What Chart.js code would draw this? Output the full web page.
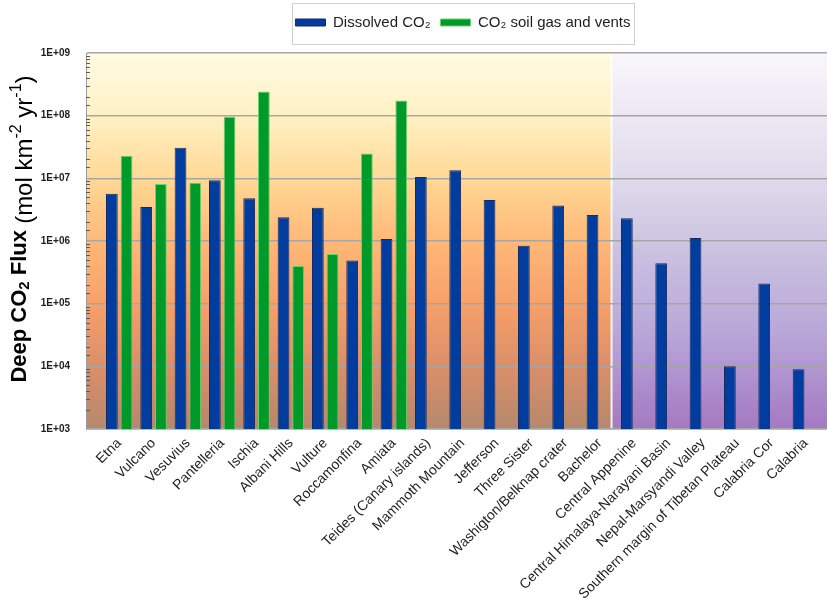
<!DOCTYPE html>
<html>
<head>
<meta charset="utf-8">
<script src="https://cdn.jsdelivr.net/npm/chart.js@4"></script>
<style>
  html, body { margin: 0; padding: 0; background: #ffffff; }
  canvas { display: block; }
</style>
</head>
<body>
<canvas id="chart" width="827" height="601"></canvas>
<script>
// Volcanic / tectonic areas along the x axis
const categories = [
  'Etna', 'Vulcano', 'Vesuvius', 'Pantelleria', 'Ischia', 'Albani Hills',
  'Vulture', 'Roccamonfina', 'Amiata', 'Teides (Canary islands)',
  'Mammoth Mountain', 'Jefferson', 'Three Sister', 'Washigton/Belknap crater',
  'Bachelor', 'Central Appenine', 'Central Himalaya-Narayani Basin',
  'Nepal-Marsyandi Valley', 'Southern margin of Tibetan Plateau',
  'Calabria Cor', 'Calabria'
];

// Deep CO2 flux, mol km-2 yr-1
const dissolvedCO2 = [
  5.7e6, 3.5e6, 3.07e7, 9.3e6, 4.8e6, 2.4e6,
  3.4e6, 4.9e5, 1.08e6, 1.05e7,
  1.34e7, 4.5e6, 8.4e5, 3.7e6,
  2.6e6, 2.3e6, 4.4e5,
  1.12e6, 1.0e4,
  2.1e5, 9.0e3
];
const soilGasVents = [
  2.3e7, 8.1e6, 8.5e6, 9.6e7, 2.43e8, 4.0e5,
  6.2e5, 2.5e7, 1.75e8, null,
  null, null, null, null,
  null, null, null,
  null, null,
  null, null
];

// Labels for the decades of the log axis
const yTickLabels = ['1E+03', '1E+04', '1E+05', '1E+06', '1E+07', '1E+08', '1E+09'];
const yMinExp = 3;

// Horizontal extent of the category axis (in category units) and where the
// volcanic group gives way to the non-volcanic group
const xMin = -0.967;
const xMax = 20.615;
const regionBoundary = 14.34;

const FONT = "'Liberation Sans', Arial, sans-serif";

// Two gradient panels behind the plot and a thin separator between them
const panelBackground = {
  id: 'panelBackground',
  beforeDraw(chart) {
    const { ctx, chartArea: a, scales: { x } } = chart;
    const split = x.getPixelForValue(regionBoundary);
    ctx.save();
    const warm = ctx.createLinearGradient(0, a.top, 0, a.bottom);
    warm.addColorStop(0.00, '#fffbe2');
    warm.addColorStop(0.17, '#fff1c4');
    warm.addColorStop(0.33, '#ffd996');
    warm.addColorStop(0.50, '#ffb877');
    warm.addColorStop(0.67, '#f6a06a');
    warm.addColorStop(0.84, '#d98e69');
    warm.addColorStop(1.00, '#b5886d');
    ctx.fillStyle = warm;
    ctx.fillRect(a.left, a.top, split - a.left, a.bottom - a.top);

    const cool = ctx.createLinearGradient(0, a.top, 0, a.bottom);
    cool.addColorStop(0.00, '#f9f6fb');
    cool.addColorStop(0.33, '#dfdbec');
    cool.addColorStop(0.50, '#cdc5e2');
    cool.addColorStop(0.75, '#b8a6d8');
    cool.addColorStop(1.00, '#a479c2');
    ctx.fillStyle = cool;
    ctx.fillRect(split, a.top, a.right - split, a.bottom - a.top);

    ctx.strokeStyle = 'rgba(255,255,255,0.9)';
    ctx.lineWidth = 2;
    ctx.beginPath();
    ctx.moveTo(split, a.top);
    ctx.lineTo(split, a.bottom);
    ctx.stroke();
    ctx.restore();
  }
};

// Short minor tick dashes inside the log axis, legend frame, axis title
const decorations = {
  id: 'decorations',
  afterLayout(chart) {
    // legend sits in a framed box near the top edge, centred over the plot body
    const lg = chart.legend;
    lg.left = 99;
    lg.top -= 13;
    lg.bottom -= 13;
    lg.adjustHitBoxes();
  },
  afterDraw(chart) {
    const { ctx, chartArea: a, scales: { y } } = chart;
    ctx.save();

    // minor ticks
    ctx.strokeStyle = '#5a5a5a';
    ctx.lineWidth = 1;
    y.ticks.forEach(t => {
      const e = Math.log10(t.value);
      if (Math.abs(e - Math.round(e)) < 1e-9) return;
      const py = Math.round(y.getPixelForValue(t.value)) + 0.5;
      ctx.beginPath();
      ctx.moveTo(a.left, py);
      ctx.lineTo(a.left + 4, py);
      ctx.stroke();
    });

    // legend frame
    const lg = chart.legend;
    const hb = lg.legendHitBoxes;
    if (hb && hb.length) {
      const first = hb[0], last = hb[hb.length - 1];
      const cy = lg.top + 16;
      const left = first.left - 3;
      const right = last.left + last.width + 4;
      ctx.strokeStyle = '#cfcfcf';
      ctx.lineWidth = 1;
      ctx.strokeRect(Math.round(left) + 0.5, Math.round(cy - 18) + 0.5,
                     Math.round(right - left), 41);
    }

    // y axis title with sub/superscripts
    const segs = [
      { t: 'Deep CO', size: 22, bold: true, dy: 0 },
      { t: '2', size: 15, bold: true, dy: 5 },
      { t: ' Flux ', size: 22, bold: true, dy: 0 },
      { t: '(mol km', size: 24, bold: false, dy: 0 },
      { t: '-2', size: 16, bold: false, dy: -8 },
      { t: ' yr', size: 24, bold: false, dy: 0 },
      { t: '-1', size: 16, bold: false, dy: -8 },
      { t: ')', size: 24, bold: false, dy: 0 }
    ];
    const fontOf = s => (s.bold ? 'bold ' : '') + s.size + 'px ' + FONT;
    let total = 0;
    segs.forEach(s => { ctx.font = fontOf(s); s.w = ctx.measureText(s.t).width; total += s.w; });
    const cy = (a.top + a.bottom) / 2 - 12;
    ctx.translate(20, cy);
    ctx.rotate(-Math.PI / 2);
    ctx.fillStyle = '#000000';
    ctx.textBaseline = 'middle';
    ctx.textAlign = 'left';
    let cx = -total / 2;
    segs.forEach(s => {
      ctx.font = fontOf(s);
      ctx.fillText(s.t, cx, s.dy + (s.bold ? 0 : 5));
      cx += s.w;
    });
    ctx.restore();
  }
};

new Chart(document.getElementById('chart'), {
  type: 'bar',
  data: {
    datasets: [
      {
        label: 'Dissolved CO\u2082',
        data: dissolvedCO2.map((v, i) => ({ x: i, y: v })),
        backgroundColor: '#003d9e',
        borderColor: '#1b2a5c',
        borderWidth: 1
      },
      {
        label: 'CO\u2082 soil gas and vents',
        data: soilGasVents.map((v, i) => ({ x: i, y: v })),
        backgroundColor: '#009a2b',
        borderColor: '#6cd06c',
        borderWidth: 1
      }
    ]
  },
  plugins: [panelBackground, decorations],
  options: {
    responsive: false,
    animation: false,
    devicePixelRatio: 1,
    categoryPercentage: 0.856,
    barPercentage: 0.8,
    layout: { padding: { top: 18, left: 0, right: 0, bottom: 0 } },
    plugins: {
      tooltip: { enabled: false },
      legend: {
        position: 'top',
        align: 'center',
        labels: {
          boxWidth: 30,
          boxHeight: 7,
          padding: 10,
          color: '#1e1e1e',
          font: { family: FONT, size: 15 }
        }
      }
    },
    scales: {
      x: {
        type: 'linear',
        min: xMin,
        max: xMax,
        offset: false,
        afterBuildTicks(scale) {
          scale.ticks = categories.map((_, i) => ({ value: i }));
        },
        afterFit(scale) { scale.height = 172; },
        grid: { display: false, drawTicks: false },
        border: { display: true, color: '#b9b9b9', width: 1 },
        ticks: {
          autoSkip: false,
          minRotation: 45,
          maxRotation: 45,
          padding: 6,
          color: '#1e1e1e',
          font: { family: FONT, size: 14 },
          callback: v => categories[Math.round(v)]
        }
      },
      y: {
        type: 'logarithmic',
        min: 1e3,
        max: 1e9,
        afterFit(scale) { scale.width = 86; },
        grid: {
          drawTicks: false,
          lineWidth: 1.5,
          color: c => {
            const e = Math.log10(c.tick.value);
            return Math.abs(e - Math.round(e)) < 1e-9 ? '#a6a6a6' : 'rgba(0,0,0,0)';
          }
        },
        border: { display: true, color: '#9c9c9c', width: 1 },
        ticks: {
          autoSkip: false,
          padding: 16,
          color: '#1e1e1e',
          font: { family: FONT, size: 10, weight: 'bold' },
          callback: v => {
            const e = Math.log10(v);
            if (Math.abs(e - Math.round(e)) > 1e-9) return '';
            return yTickLabels[Math.round(e) - yMinExp];
          }
        }
      }
    }
  }
});
</script>
</body>
</html>
